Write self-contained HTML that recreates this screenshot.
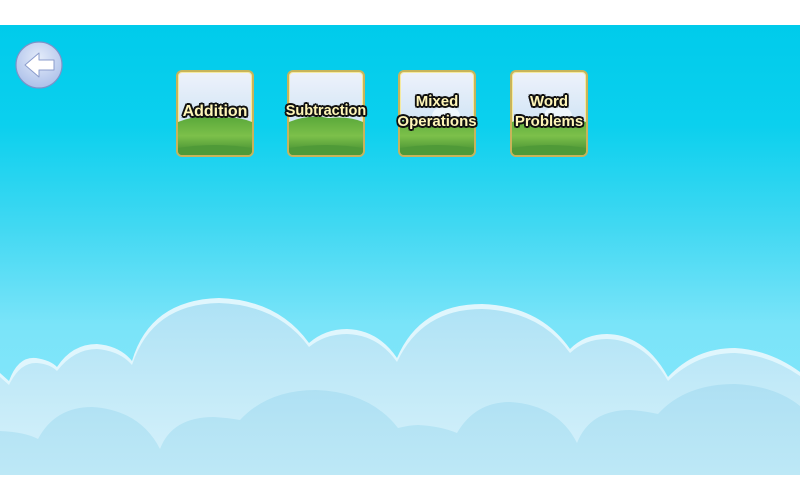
<!DOCTYPE html>
<html><head><meta charset="utf-8"><style>
html,body{margin:0;padding:0;width:800px;height:500px;overflow:hidden;background:#fff;font-family:"Liberation Sans",sans-serif}
.sky{position:absolute;left:0;top:25px;width:800px;height:450px;background:linear-gradient(#00cbeb 0px,#0bd0ee 100px,#40d8f2 200px,#7ae4f9 300px,#8ae8fb 450px)}
.card{position:absolute;top:70px;width:78px;height:87px}
.bg{position:absolute;left:0;top:0;width:74px;height:83px;border:2px solid #c8b45a;border-radius:6px;overflow:hidden;box-shadow:0 0 0 1px #f5eaa0 inset;background:linear-gradient(#eef2fb,#d4e6f6 55%,#cfe6f3 60%)}
.bg svg{position:absolute;left:0;top:0}
.lbl{position:absolute;left:-10px;right:-10px;text-align:center;font-weight:bold;font-size:16px;line-height:19px;color:#fff6b8;text-shadow:-1.5px -1.5px 0 #111,1.5px -1.5px 0 #111,-1.5px 1.5px 0 #111,1.5px 1.5px 0 #111,0 1.8px 0 #111,0 -1.8px 0 #111,1.8px 0 0 #111,-1.8px 0 0 #111;white-space:nowrap}
</style></head><body>
<div class="sky"></div>
<svg width="800" height="500" style="position:absolute;left:0;top:0">
<defs>
<linearGradient id="f" x1="0" y1="0" x2="0" y2="1"><stop offset="0" stop-color="#aee2f5"/><stop offset="1" stop-color="#d8f2fb"/></linearGradient>
<linearGradient id="b" x1="0" y1="0" x2="0" y2="1"><stop offset="0" stop-color="#aee0f3"/><stop offset="1" stop-color="#bde8f6"/></linearGradient>
<radialGradient id="btn" cx="0.5" cy="0.35" r="0.7"><stop offset="0" stop-color="#e4ecfa"/><stop offset="1" stop-color="#a9bde8"/></radialGradient>
</defs>
<path d="M0,373 L9,381 Q18,356 36,358 Q50,360 57,367 Q72,344 97,344 Q120,346 132,361 Q150,300 219,298 Q278,300 309,343 Q325,329 347,329 Q378,330 397,358 Q420,304 482,304 Q540,306 570,349 Q585,334 607,334 Q645,335 668,377 Q695,348 735,348 Q770,350 800,372 L800,475 L0,475 Z" fill="#e0f6fd"/>
<path d="M0,377 L9,385 Q20,362 37,363 Q50,364 57,371 Q74,349 97,349 Q120,351 132,365 Q152,304 219,303 Q278,305 309,347 Q325,334 347,334 Q378,335 397,362 Q422,309 482,309 Q540,311 570,353 Q585,339 607,339 Q645,340 668,381 Q697,353 735,353 Q770,355 800,376 L800,475 L0,475 Z" fill="url(#f)"/>
<path d="M0,431 Q25,432 38,439 Q55,407 92,407 Q140,410 160,449 Q172,417 214,417 Q230,418 240,420 Q268,390 316,390 Q370,392 398,428 Q410,425 418,425 Q440,426 457,433 Q475,402 510,402 Q558,405 577,443 Q590,410 630,410 Q645,411 658,414 Q685,384 735,384 Q775,386 800,406 L800,475 L0,475 Z" fill="url(#b)"/>
<circle cx="39" cy="65" r="23" fill="url(#btn)" stroke="#7d92c8" stroke-width="1.2"/>
<path d="M25,65 L39,53 L39,60 L54,60 L54,70 L39,70 L39,77 Z" fill="#fff" stroke="#8b9ccc" stroke-width="1" stroke-linejoin="round"/>
<defs><linearGradient id="g" x1="0" y1="0" x2="0" y2="1"><stop offset="0" stop-color="#5aa83a"/><stop offset="0.5" stop-color="#7cc04a"/><stop offset="1" stop-color="#3f8a30"/></linearGradient></defs>
</svg>
<div class="card" style="left:176px"><div class="bg"><svg width="74" height="83"><ellipse cx="46" cy="44" rx="14" ry="10" fill="#eef6fc"/><path d="M0,50 Q20,42 40,46 Q60,44 74,50 L74,83 L0,83Z" fill="url(#g)"/><path d="M0,76 Q37,70 74,76 L74,83 L0,83Z" fill="#4f9a38"/></svg></div><div class="lbl" style="top:32px">Addition</div></div>
<div class="card" style="left:287px"><div class="bg"><svg width="74" height="83"><ellipse cx="40" cy="44" rx="14" ry="10" fill="#eef6fc"/><path d="M0,50 Q20,42 40,46 Q60,44 74,50 L74,83 L0,83Z" fill="url(#g)"/><path d="M0,76 Q37,70 74,76 L74,83 L0,83Z" fill="#4f9a38"/></svg></div><div class="lbl" style="top:32px;font-size:14.5px">Subtraction</div></div>
<div class="card" style="left:398px"><div class="bg"><svg width="74" height="83"><ellipse cx="46" cy="44" rx="14" ry="10" fill="#eef6fc"/><path d="M0,50 Q20,42 40,46 Q60,44 74,50 L74,83 L0,83Z" fill="url(#g)"/><path d="M0,76 Q37,70 74,76 L74,83 L0,83Z" fill="#4f9a38"/></svg></div><div class="lbl" style="top:22px;font-size:15px;line-height:20px">Mixed<br>Operations</div></div>
<div class="card" style="left:510px"><div class="bg"><svg width="74" height="83"><ellipse cx="46" cy="44" rx="14" ry="10" fill="#eef6fc"/><path d="M0,50 Q20,42 40,46 Q60,44 74,50 L74,83 L0,83Z" fill="url(#g)"/><path d="M0,76 Q37,70 74,76 L74,83 L0,83Z" fill="#4f9a38"/></svg></div><div class="lbl" style="top:22px;font-size:15px;line-height:20px">Word<br>Problems</div></div>
</body></html>
